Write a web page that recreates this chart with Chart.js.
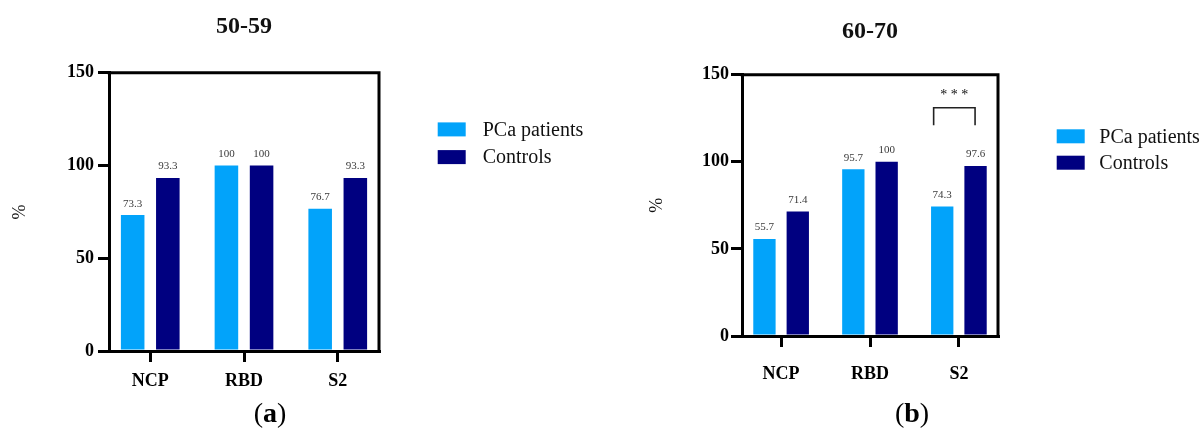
<!DOCTYPE html>
<html>
<head>
<meta charset="utf-8">
<script src="https://cdn.jsdelivr.net/npm/chart.js@4.4.1/dist/chart.umd.min.js"></script>
<style>
  html, body { margin: 0; padding: 0; background: #ffffff; }
  #wrap { position: relative; width: 1203px; height: 432px; overflow: hidden; background: #ffffff; }
  canvas { position: absolute; top: 0; }
  #panelA { left: 0; }
  #panelB { left: 600px; }
</style>
</head>
<body>
<div id="wrap">
  <canvas id="panelA" width="600" height="432"></canvas>
  <canvas id="panelB" width="603" height="432"></canvas>
</div>
<script>
// Antigens on the x axis
const antigens = ['NCP', 'RBD', 'S2'];
// Series
const seriesNames = ['PCa patients', 'Controls'];
const seriesColors = ['#02a3fa', '#000080'];
// Seropositivity (%) by age group
const age5059Patients = [73.3, 100, 76.7];
const age5059Controls = [93.3, 100, 93.3];
const age6070Patients = [55.7, 95.7, 74.3];
const age6070Controls = [71.4, 100, 97.6];
// Y axis ticks
const yTicks = [0, 50, 100, 150];

const SERIF = '"Liberation Serif", "Times New Roman", serif';

// Frame, value labels, legend, significance bracket and panel letter
const panelExtras = {
  id: 'panelExtras',
  afterDraw(chart, args, opts) {
    const { ctx, chartArea: a, scales } = chart;
    ctx.save();

    // top and right sides of the box
    ctx.strokeStyle = '#000';
    ctx.lineWidth = 3;
    ctx.lineCap = 'square';
    ctx.beginPath();
    ctx.moveTo(a.left, a.top);
    ctx.lineTo(a.right, a.top);
    ctx.lineTo(a.right, a.bottom);
    ctx.stroke();

    // value above each bar
    ctx.font = '11px ' + SERIF;
    ctx.fillStyle = '#3a3a3a';
    ctx.textAlign = 'center';
    ctx.textBaseline = 'alphabetic';
    chart.data.datasets.forEach((ds, i) => {
      chart.getDatasetMeta(i).data.forEach((bar, j) => {
        ctx.fillText(String(ds.data[j].y), bar.x, bar.y - 8.5);
      });
    });

    // legend
    const lg = opts.legend;
    chart.data.datasets.forEach((ds, i) => {
      const bx = a.right + lg.dx;
      const by = a.top + lg.dy + i * lg.step;
      ctx.fillStyle = ds.backgroundColor;
      ctx.fillRect(bx, by, 28, 14);
      ctx.fillStyle = '#111';
      ctx.font = '20px ' + SERIF;
      ctx.textAlign = 'left';
      ctx.textBaseline = 'middle';
      ctx.fillText(ds.label, bx + lg.textDx, by + 8);
    });

    // significance bracket
    const br = opts.bracket;
    if (br) {
      const x = scales.x, y = scales.y;
      const x1 = x.getPixelForValue(br.from), x2 = x.getPixelForValue(br.to);
      const yt = y.getPixelForValue(br.top), yb = y.getPixelForValue(br.foot);
      ctx.strokeStyle = '#222';
      ctx.lineWidth = 1.6;
      ctx.lineCap = 'butt';
      ctx.beginPath();
      ctx.moveTo(x1, yb);
      ctx.lineTo(x1, yt);
      ctx.lineTo(x2, yt);
      ctx.lineTo(x2, yb);
      ctx.stroke();
      ctx.fillStyle = '#111';
      ctx.font = '14px ' + SERIF;
      ctx.textAlign = 'center';
      ctx.textBaseline = 'middle';
      ctx.fillText(br.text, (x1 + x2) / 2, y.getPixelForValue(br.textAt));
    }

    // panel letter, e.g. (a)
    const pl = opts.panel;
    const fReg = '28px ' + SERIF, fBold = 'bold 28px ' + SERIF;
    ctx.font = fReg;
    const wOpen = ctx.measureText('(').width, wClose = ctx.measureText(')').width;
    ctx.font = fBold;
    const wLetter = ctx.measureText(pl.letter).width;
    let px = pl.x - (wOpen + wLetter + wClose) / 2;
    ctx.fillStyle = '#000';
    ctx.textAlign = 'left';
    ctx.textBaseline = 'alphabetic';
    ctx.font = fReg; ctx.fillText('(', px, pl.y); px += wOpen;
    ctx.font = fBold; ctx.fillText(pl.letter, px, pl.y); px += wLetter;
    ctx.font = fReg; ctx.fillText(')', px, pl.y);

    ctx.restore();
  }
};

function makePanel(canvasId, cfg) {
  const toPoints = vals => vals.map((v, j) => ({ x: j, y: v }));
  return new Chart(document.getElementById(canvasId), {
    type: 'bar',
    data: {
      datasets: [
        { label: seriesNames[0], data: toPoints(cfg.patients), backgroundColor: seriesColors[0], borderWidth: 0 },
        { label: seriesNames[1], data: toPoints(cfg.controls), backgroundColor: seriesColors[1], borderWidth: 0 }
      ]
    },
    options: {
      responsive: false,
      animation: false,
      devicePixelRatio: 1,
      categoryPercentage: 0.75,
      barPercentage: 0.67,
      layout: { padding: { left: 0, right: cfg.rightPad, top: 0, bottom: 0 } },
      plugins: {
        legend: { display: false },
        tooltip: { enabled: false },
        title: {
          display: true,
          text: cfg.title,
          fullSize: false,
          color: '#111',
          font: { family: SERIF, size: 24, weight: 'bold', lineHeight: 1.2 },
          padding: { top: cfg.titleTop, bottom: cfg.titleBottom }
        },
        panelExtras: {
          legend: cfg.legend,
          bracket: cfg.bracket || null,
          panel: cfg.panel
        }
      },
      scales: {
        x: {
          type: 'linear',
          min: -0.44,
          max: 2.44,
          offset: false,
          afterBuildTicks: s => { s.ticks = antigens.map((_, i) => ({ value: i })); },
          afterFit: s => { s.height = cfg.xHeight; },
          grid: { offset: false, drawOnChartArea: false, drawTicks: true, tickLength: 11, lineWidth: 3, color: '#000' },
          border: { display: true, width: 3, color: '#000' },
          ticks: {
            autoSkip: false,
            maxRotation: 0,
            padding: cfg.xPad,
            color: '#000',
            font: { family: SERIF, size: 18, weight: 'bold' },
            callback: v => antigens[v]
          }
        },
        y: {
          min: yTicks[0],
          max: yTicks[yTicks.length - 1],
          afterBuildTicks: s => { s.ticks = yTicks.map(v => ({ value: v })); },
          afterFit: s => { s.width = cfg.yWidth; },
          grid: { drawOnChartArea: false, drawTicks: true, tickLength: 11, lineWidth: 3, color: '#000' },
          border: { display: true, width: 3, color: '#000' },
          ticks: {
            padding: cfg.yPad,
            color: '#000',
            font: { family: SERIF, size: 18, weight: 'bold' }
          },
          title: {
            display: true,
            text: '%',
            color: '#111',
            font: { family: SERIF, size: 18, lineHeight: 1.2 },
            padding: { top: cfg.yTitlePad, bottom: 0 }
          }
        }
      }
    },
    plugins: [panelExtras]
  });
}

makePanel('panelA', {
  title: '50-59',
  patients: age5059Patients,
  controls: age5059Controls,
  rightPad: 221,
  titleTop: 12,
  titleBottom: 32,
  xHeight: 81,
  xPad: 8.5,
  yWidth: 109,
  yPad: 4,
  yTitlePad: 9.5,
  legend: { dx: 58.7, dy: 49.6, step: 27.7, textDx: 45 },
  panel: { letter: 'a', x: 270, y: 422 }
});

makePanel('panelB', {
  title: '60-70',
  patients: age6070Patients,
  controls: age6070Controls,
  rightPad: 205,
  titleTop: 17.3,
  titleBottom: 28.6,
  xHeight: 96,
  xPad: 17,
  yWidth: 142,
  yPad: 2,
  yTitlePad: 46,
  legend: { dx: 58.7, dy: 54.6, step: 26.4, textDx: 42.6 },
  bracket: { from: 1.716, to: 2.182, top: 131, foot: 121, text: '* * *', textAt: 138 },
  panel: { letter: 'b', x: 312, y: 422 }
});
</script>
</body>
</html>
